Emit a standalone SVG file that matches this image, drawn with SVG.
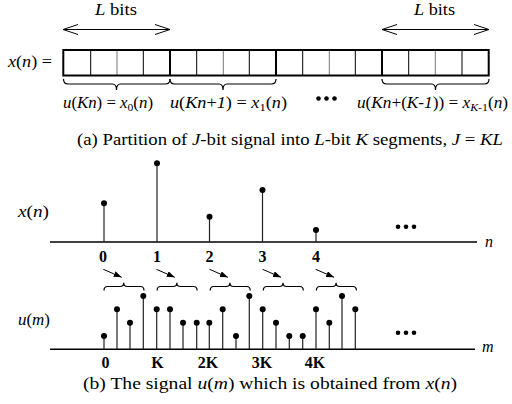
<svg xmlns="http://www.w3.org/2000/svg" width="512" height="404" viewBox="0 0 512 404">
  <style>
    text { font-family: "Liberation Serif", "Times New Roman", serif; font-size: 16px; fill: #000; }
    .it { font-style: italic; }
    .bd { font-weight: bold; font-size: 16px; }
    .sub { font-size: 11px; }
    .ln { stroke: #000; stroke-width: 1; fill: none; }
    .gr { stroke: #777; stroke-width: 1; fill: none; }
    .thick { stroke: #000; stroke-width: 2; fill: none; }
    .axis { stroke: #000; stroke-width: 1.6; fill: none; }
    .stem { stroke: #222; stroke-width: 1.2; }
    .dot { fill: #000; }
    .brace { stroke: #000; stroke-width: 1.2; fill: none; }
  </style>
  <defs>
    <marker id="open" viewBox="0 0 16 12" refX="15" refY="6" markerWidth="16" markerHeight="12" markerUnits="userSpaceOnUse" orient="auto-start-reverse">
      <path d="M0,1 L15,6 L0,11" fill="none" stroke="#000" stroke-width="1"/>
    </marker>
    <marker id="solid" viewBox="0 0 8 6" refX="8" refY="3" markerWidth="8" markerHeight="6" markerUnits="userSpaceOnUse" orient="auto">
      <path d="M0,0 L8,3 L0,6 Z" fill="#000"/>
    </marker>
  </defs>

  <!-- (a) bit register -->
  <g id="width-arrows">
    <text class="it" x="95" y="14.5" textLength="42" lengthAdjust="spacingAndGlyphs">L<tspan font-style="normal"> bits</tspan></text>
    <line class="ln" x1="63" y1="29.5" x2="170" y2="29.5" marker-start="url(#open)" marker-end="url(#open)"/>
    <text class="it" x="414" y="14.5" textLength="41" lengthAdjust="spacingAndGlyphs">L<tspan font-style="normal"> bits</tspan></text>
    <line class="ln" x1="382" y1="29.5" x2="489" y2="29.5" marker-start="url(#open)" marker-end="url(#open)"/>
  </g>

  <g id="register">
    <text x="8" y="67" textLength="44" lengthAdjust="spacingAndGlyphs"><tspan class="it">x</tspan>(<tspan class="it">n</tspan>) =</text>
    <!-- cell dividers -->
    <path class="ln" d="M90.7,50V75.5 M143.3,50V75.5 M196.7,50V75.5 M249.3,50V75.5 M302.7,50V75.5 M355.3,50V75.5 M408.7,50V75.5 M462,50V75.5"/>
    <path class="gr" d="M117,50V75.5 M223.3,50V75.5 M329.3,50V75.5 M435.3,50V75.5"/>
    <!-- segment boundaries -->
    <path class="thick" d="M170,50V75.5 M276,50V75.5 M382,50V75.5"/>
    <rect class="thick" x="63.3" y="50" width="425.4" height="25.5"/>
  </g>

  <g id="segment-braces">
    <path class="brace" d="M63.5,79 Q63.5,84 68,84 L112.5,84 Q116.5,84 116.5,90 Q116.5,84 120.5,84 L165.5,84 Q170,84 170,79"/>
    <path class="brace" d="M170,79 Q170,84 174.5,84 L219,84 Q223,84 223,90 Q223,84 227,84 L271.5,84 Q276,84 276,79"/>
    <path class="brace" d="M382,79 Q382,84 386.5,84 L431.5,84 Q435.5,84 435.5,90 Q435.5,84 439.5,84 L484.5,84 Q489,84 489,79"/>
  </g>

  <g id="segment-labels">
    <text x="63" y="108" textLength="90" lengthAdjust="spacingAndGlyphs"><tspan class="it">u</tspan>(<tspan class="it">Kn</tspan>) = <tspan class="it">x</tspan><tspan class="sub" dy="3">0</tspan><tspan dy="-3">(</tspan><tspan class="it">n</tspan>)</text>
    <text x="170" y="108" textLength="117" lengthAdjust="spacingAndGlyphs"><tspan class="it">u</tspan>(<tspan class="it">Kn</tspan>+<tspan class="it">1</tspan>) = <tspan class="it">x</tspan><tspan class="sub" dy="3">1</tspan><tspan dy="-3">(</tspan><tspan class="it">n</tspan>)</text>
    <circle class="dot" cx="318.5" cy="98.5" r="2.3"/>
    <circle class="dot" cx="326.5" cy="98.5" r="2.3"/>
    <circle class="dot" cx="334.5" cy="98.5" r="2.3"/>
    <text x="357" y="108" textLength="151" lengthAdjust="spacingAndGlyphs"><tspan class="it">u</tspan>(<tspan class="it">Kn</tspan>+(<tspan class="it">K</tspan>-<tspan class="it">1</tspan>)) = <tspan class="it">x</tspan><tspan class="sub it" dy="3">K</tspan><tspan class="sub">-1</tspan><tspan dy="-3">(</tspan><tspan class="it">n</tspan>)</text>
  </g>

  <text id="caption-a" x="77" y="145" textLength="426" lengthAdjust="spacingAndGlyphs">(a) Partition of <tspan class="it">J</tspan>-bit signal into <tspan class="it">L</tspan>-bit <tspan class="it">K</tspan> segments, <tspan class="it">J</tspan> = <tspan class="it">KL</tspan></text>

  <!-- (b) x(n) sequence -->
  <g id="x-sequence">
    <text x="18" y="217" textLength="31" lengthAdjust="spacingAndGlyphs"><tspan class="it">x</tspan>(<tspan class="it">n</tspan>)</text>
    <line class="axis" x1="50" y1="242" x2="477" y2="242"/>
    <text class="it" x="485" y="246.5">n</text>
    <g class="stem">
      <line x1="104" y1="203.3" x2="104" y2="242"/>
      <line x1="157" y1="163.3" x2="157" y2="242"/>
      <line x1="209.5" y1="216.7" x2="209.5" y2="242"/>
      <line x1="262.5" y1="190" x2="262.5" y2="242"/>
      <line x1="316" y1="230" x2="316" y2="242"/>
    </g>
    <circle class="dot" cx="104" cy="203.3" r="3"/>
    <circle class="dot" cx="157" cy="163.3" r="3"/>
    <circle class="dot" cx="209.5" cy="216.7" r="3"/>
    <circle class="dot" cx="262.5" cy="190" r="3"/>
    <circle class="dot" cx="316" cy="230" r="3"/>
    <circle class="dot" cx="398" cy="226.7" r="2.3"/>
    <circle class="dot" cx="406" cy="226.7" r="2.3"/>
    <circle class="dot" cx="414" cy="226.7" r="2.3"/>
    <g class="bd">
      <text class="bd" x="103" y="261.5" text-anchor="middle">0</text>
      <text class="bd" x="157" y="261.5" text-anchor="middle">1</text>
      <text class="bd" x="209.5" y="261.5" text-anchor="middle">2</text>
      <text class="bd" x="262.5" y="261.5" text-anchor="middle">3</text>
      <text class="bd" x="316" y="261.5" text-anchor="middle">4</text>
    </g>
  </g>

  <!-- mapping arrows -->
  <g id="connectors">
    <line class="ln" x1="103.3" y1="269.3" x2="121.7" y2="277.3" marker-end="url(#solid)"/>
    <line class="ln" x1="156.4" y1="269.3" x2="174.8" y2="277.3" marker-end="url(#solid)"/>
    <line class="ln" x1="209.5" y1="269.3" x2="227.9" y2="277.3" marker-end="url(#solid)"/>
    <line class="ln" x1="262.6" y1="269.3" x2="281" y2="277.3" marker-end="url(#solid)"/>
    <line class="ln" x1="315.7" y1="269.3" x2="334.1" y2="277.3" marker-end="url(#solid)"/>
  </g>
  <!-- group braces over each run of K samples -->
  <g id="group-braces">
    <path class="brace" d="M104,290.5 Q104,286.5 107.5,286.5 L120,286.5 Q123.7,286.5 123.7,282.7 Q123.7,286.5 127.4,286.5 L140.5,286.5 Q144,286.5 144,290.5"/>
    <path class="brace" transform="translate(53.1,0)" d="M104,290.5 Q104,286.5 107.5,286.5 L120,286.5 Q123.7,286.5 123.7,282.7 Q123.7,286.5 127.4,286.5 L140.5,286.5 Q144,286.5 144,290.5"/>
    <path class="brace" transform="translate(106.2,0)" d="M104,290.5 Q104,286.5 107.5,286.5 L120,286.5 Q123.7,286.5 123.7,282.7 Q123.7,286.5 127.4,286.5 L140.5,286.5 Q144,286.5 144,290.5"/>
    <path class="brace" transform="translate(159.3,0)" d="M104,290.5 Q104,286.5 107.5,286.5 L120,286.5 Q123.7,286.5 123.7,282.7 Q123.7,286.5 127.4,286.5 L140.5,286.5 Q144,286.5 144,290.5"/>
    <path class="brace" transform="translate(212.4,0)" d="M104,290.5 Q104,286.5 107.5,286.5 L120,286.5 Q123.7,286.5 123.7,282.7 Q123.7,286.5 127.4,286.5 L140.5,286.5 Q144,286.5 144,290.5"/>
  </g>

  <!-- (b) u(m) sequence -->
  <g id="u-sequence">
    <text x="18" y="325" textLength="32" lengthAdjust="spacingAndGlyphs"><tspan class="it">u</tspan>(<tspan class="it">m</tspan>)</text>
    <line class="axis" x1="50" y1="349.3" x2="475" y2="349.3"/>
    <text class="it" x="482" y="352">m</text>
    <g class="stem">
      <line x1="104" y1="336" x2="104" y2="349"/>
      <line x1="117" y1="309.3" x2="117" y2="349"/>
      <line x1="130" y1="322.7" x2="130" y2="349"/>
      <line x1="143.3" y1="296" x2="143.3" y2="349"/>
      <line x1="156.7" y1="309.3" x2="156.7" y2="349"/>
      <line x1="170" y1="309.3" x2="170" y2="349"/>
      <line x1="183" y1="322.7" x2="183" y2="349"/>
      <line x1="196.7" y1="322.7" x2="196.7" y2="349"/>
      <line x1="209.3" y1="322.7" x2="209.3" y2="349"/>
      <line x1="222.7" y1="309.3" x2="222.7" y2="349"/>
      <line x1="236" y1="336" x2="236" y2="349"/>
      <line x1="249.3" y1="296" x2="249.3" y2="349"/>
      <line x1="262.7" y1="309.3" x2="262.7" y2="349"/>
      <line x1="276" y1="322.7" x2="276" y2="349"/>
      <line x1="289.3" y1="336" x2="289.3" y2="349"/>
      <line x1="302.7" y1="336" x2="302.7" y2="349"/>
      <line x1="316" y1="309.3" x2="316" y2="349"/>
      <line x1="329.3" y1="322.7" x2="329.3" y2="349"/>
      <line x1="342" y1="296" x2="342" y2="349"/>
      <line x1="355.3" y1="309.3" x2="355.3" y2="349"/>
    </g>
    <g class="dot">
      <circle cx="104" cy="336" r="3"/>
      <circle cx="117" cy="309.3" r="3"/>
      <circle cx="130" cy="322.7" r="3"/>
      <circle cx="143.3" cy="296" r="3"/>
      <circle cx="156.7" cy="309.3" r="3"/>
      <circle cx="170" cy="309.3" r="3"/>
      <circle cx="183" cy="322.7" r="3"/>
      <circle cx="196.7" cy="322.7" r="3"/>
      <circle cx="209.3" cy="322.7" r="3"/>
      <circle cx="222.7" cy="309.3" r="3"/>
      <circle cx="236" cy="336" r="3"/>
      <circle cx="249.3" cy="296" r="3"/>
      <circle cx="262.7" cy="309.3" r="3"/>
      <circle cx="276" cy="322.7" r="3"/>
      <circle cx="289.3" cy="336" r="3"/>
      <circle cx="302.7" cy="336" r="3"/>
      <circle cx="316" cy="309.3" r="3"/>
      <circle cx="329.3" cy="322.7" r="3"/>
      <circle cx="342" cy="296" r="3"/>
      <circle cx="355.3" cy="309.3" r="3"/>
    </g>
    <circle class="dot" cx="398" cy="332.7" r="2.3"/>
    <circle class="dot" cx="406" cy="332.7" r="2.3"/>
    <circle class="dot" cx="414" cy="332.7" r="2.3"/>
    <g>
      <text class="bd" x="105.5" y="368" text-anchor="middle">0</text>
      <text class="bd" x="157.5" y="368" text-anchor="middle">K</text>
      <text class="bd" x="208" y="368" text-anchor="middle">2K</text>
      <text class="bd" x="262" y="368" text-anchor="middle">3K</text>
      <text class="bd" x="315" y="368" text-anchor="middle">4K</text>
    </g>
  </g>

  <text id="caption-b" x="83" y="389" textLength="374" lengthAdjust="spacingAndGlyphs">(b) The signal <tspan class="it">u</tspan>(<tspan class="it">m</tspan>) which is obtained from <tspan class="it">x</tspan>(<tspan class="it">n</tspan>)</text>
</svg>
